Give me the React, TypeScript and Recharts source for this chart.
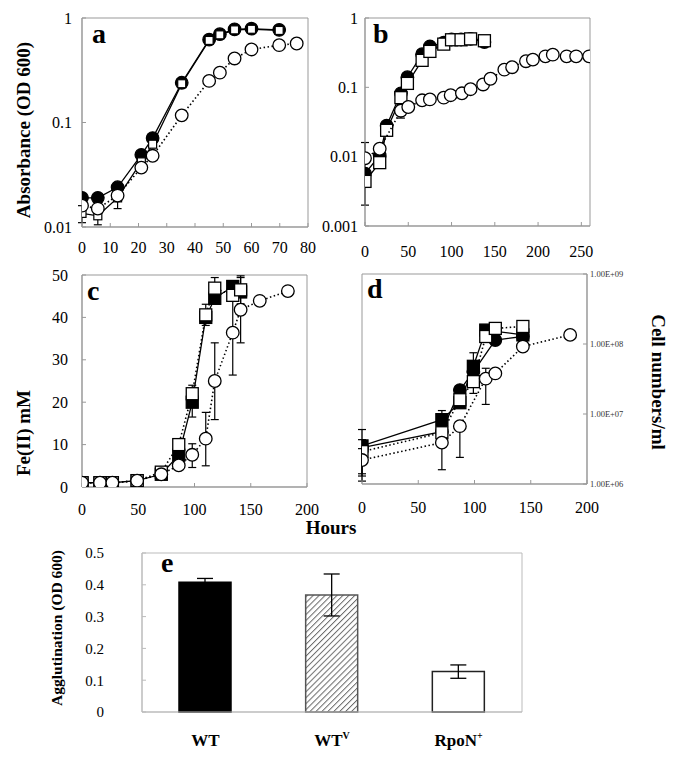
import React from 'react';
import { ScatterChart, Scatter, XAxis, YAxis, ErrorBar, ReferenceArea, BarChart, Bar, Cell } from 'recharts';

const FONT = '"Liberation Serif", "Times New Roman", serif';

type Err = number | [number, number] | null;

// ---- panel a: absorbance (OD 600), 0-80 h
const aHours = [0, 5.6, 12.6, 21, 25, 35.3, 45, 48.8, 54, 60, 69.8];
const aWT = [0.019, 0.019, 0.024, 0.049, 0.071, 0.24, 0.62, 0.7, 0.78, 0.79, 0.77];
const aWTv = [0.0135, 0.0128, 0.019, 0.042, 0.062, 0.235, 0.61, 0.69, 0.77, 0.78, 0.76];
const aWTvErr: Err[] = [0.0025, 0.0023, 0.004, null, null, null, null, null, null, null, null];
const aRpoNHours = [0, 5.6, 12.6, 21, 25, 35.3, 45, 48.8, 54, 60, 69.8, 76];
const aRpoN = [0.016, 0.015, 0.02, 0.037, 0.048, 0.117, 0.25, 0.3, 0.41, 0.5, 0.55, 0.57];
const aRpoNErr: Err[] = [null, null, null, null, null, null, null, null, 0.03, 0.03, 0.05, null];

// ---- panel b: absorbance, 0-260 h
const bHours = [0, 17, 25, 41.5, 49, 66, 75, 91, 100, 111, 122, 138];
const bWT = [0.0057, 0.0104, 0.028, 0.082, 0.14, 0.3, 0.39, 0.44, 0.49, 0.49, 0.5, 0.45];
const bWTErr: Err[] = [[0.0037, 0.0103], null, null, null, null, null, null, null, null, null, null, null];
const bWTv = [0.0044, 0.0082, 0.024, 0.071, 0.114, 0.245, 0.33, 0.42, 0.485, 0.485, 0.5, 0.47];
const bRpoNHours = [0, 17, 41.5, 50, 66, 75, 91, 99, 112, 122, 136.5, 145, 161, 170, 186, 194, 208.5, 217, 233, 244, 259];
const bRpoN = [0.0095, 0.013, 0.046, 0.052, 0.065, 0.067, 0.071, 0.077, 0.082, 0.094, 0.11, 0.133, 0.18, 0.195, 0.238, 0.251, 0.28, 0.296, 0.28, 0.28, 0.28];
const bRpoNErr: Err[] = [null, null, 0.01, null, null, 0.006, null, null, null, 0.01, null, null, null, null, null, null, null, null, null, null, null];

// ---- panel c: Fe(II) mM
const cHours = [0, 16, 27, 49, 70.5, 86, 98, 110, 118, 134, 141];
const cWT = [1, 1, 1, 1.5, 3, 7.5, 20, 40, 44.5, 47.3, 46];
const cWTv = [1, 1, 1, 1.5, 3.5, 10, 22, 40.6, 46.9, 45.2, 46.5];
const cWTvErr: Err[] = [null, null, null, null, null, null, [5.5, 2], 2.5, 2.5, null, 3.3];
const cRpoNHours = [0, 16, 27, 49, 70.5, 86, 98, 110, 118, 134, 141, 158, 183];
const cRpoN = [1, 1, 1, 1.5, 3, 5.1, 7.6, 11.4, 25, 36.4, 41.8, 43.9, 46.2];
const cRpoNErr: Err[] = [null, null, null, null, null, null, [3, 2.6], [6.4, 6.2], [9.1, 9], [10, 9], [7.8, 7.6], null, [1.2, 0]];

// ---- panel d: cell numbers/ml
const dWTHours = [0, 71, 87, 99, 110, 143];
const dWT = [3.5e6, 8.3e6, 1.45e7, 4.8e7, 1.58e8, 1.35e8];
const dWTErr: Err[] = [[2.1e6, 2.5e6], [1.5e6, 2.9e6], null, [1e7, 2.7e7], null, null];
const dWT2Hours = [0, 71, 87, 99, 118.5, 143];
const dWT2 = [3.3e6, 5.6e6, 2.2e7, 4.0e7, 1.14e8, 1.28e8];
const dWT2Err: Err[] = [null, null, [3e6, 3e6], null, null, null];
const dWTvHours = [0, 71, 87, 99, 110, 118.5, 143];
const dWTv = [2.9e6, 5.4e6, 1.6e7, 2.9e7, 1.28e8, 1.67e8, 1.78e8];
const dWTvErr: Err[] = [[1.6e6, 1.4e6], null, null, [9.3e6, 5e6], null, null, null];
const dRpoNHours = [0, 71, 87, 110, 118.5, 143, 185];
const dRpoN = [2.2e6, 3.9e6, 6.7e6, 3.2e7, 3.8e7, 9.2e7, 1.35e8];
const dRpoNErr: Err[] = [[1.1e6, 1e6], [2.3e6, 0.8e6], [4.3e6, 1e6], [1.83e7, 1.3e7], null, null, [1.5e7, 0]];

// ---- panel e: agglutination
const eCategories = ['WT', 'WT^V', 'RpoN^+'];
const eValues = [0.408, 0.368, 0.127];
const eErrors = [0.012, 0.066, 0.021];

const pts = (xs: number[], ys: number[], errs?: Err[]) =>
  xs.map((x, i) => ({ x, y: ys[i], err: errs && errs[i] != null ? errs[i] : undefined }));

const FilledCircle = (p: any) => <circle cx={p.cx} cy={p.cy} r={6.3} fill="#000" stroke="#000" strokeWidth={1.2} />;
const OpenCircle = (p: any) => <circle cx={p.cx} cy={p.cy} r={6.3} fill="#fff" stroke="#000" strokeWidth={1.3} />;
const OpenSquare = (p: any) => (
  <rect x={p.cx - 6} y={p.cy - 6} width={12} height={12} fill="#fff" stroke="#000" strokeWidth={1.3} />
);
// panel a draws its squares smaller, inside the circles
const SmallSquare = (p: any) => (
  <rect x={p.cx - 4} y={p.cy - 4} width={8} height={8} fill="#fff" stroke="#000" strokeWidth={1.2} />
);
const FilledSquare = (p: any) => (
  <rect x={p.cx - 6} y={p.cy - 6} width={12} height={12} fill="#000" stroke="#000" strokeWidth={1.3} />
);

const SOLID = { stroke: '#000', strokeWidth: 1.3 };
const DOTTED = { stroke: '#000', strokeWidth: 1.6, strokeDasharray: '1.5 2.5' };

type Series = { data: any[]; shape: any; line: any };

type PanelProps = {
  x0: number; y0: number; w: number; h: number;
  xDomain: [number, number]; xTicks: number[];
  yDomain: [number, number]; yTicks: number[];
  log?: boolean; right?: boolean;
  yFmt?: (v: number) => string;
  yFont?: number;
  xMargin: number; yMargin: number;
  series: Series[];
};

function Panel(p: PanelProps) {
  const ML = 60, MR = 60, MT = 10, MB = 40;
  return (
    <div style={{ position: 'absolute', left: p.x0 - ML, top: p.y0 - MT }}>
      <ScatterChart
        width={p.w + ML + MR}
        height={p.h + MT + MB}
        margin={{ top: MT, right: p.right ? 0 : MR, bottom: 0, left: p.right ? ML : 0 }}
      >
        <XAxis
          type="number" dataKey="x" domain={p.xDomain} ticks={p.xTicks} interval={0}
          allowDataOverflow height={MB} stroke="#999"
          tickSize={-4} tickMargin={p.xMargin}
          tick={{ fill: '#000', fontSize: 16, fontFamily: FONT }}
        />
        <YAxis
          type="number" dataKey="y" orientation={p.right ? 'right' : 'left'} width={p.right ? MR : ML}
          scale={p.log ? 'log' : 'auto'} domain={p.yDomain} ticks={p.yTicks} interval={0}
          allowDataOverflow stroke="#999" tickSize={-4} tickMargin={p.yMargin}
          tickFormatter={p.yFmt}
          tick={{ fill: p.right ? '#333' : '#000', fontSize: p.yFont || 16, fontFamily: FONT }}
        />
        <ReferenceArea y1={p.yDomain[0]} y2={p.yDomain[1]} fill="none" stroke="#999" strokeWidth={1} ifOverflow="visible" />
        {p.series.map((s, i) => (
          <Scatter key={i} data={s.data} shape={s.shape} line={s.line} lineType="joint" fill="#000" isAnimationActive={false}>
            <ErrorBar dataKey="err" direction="y" width={4} stroke="#000" strokeWidth={1.2} />
          </Scatter>
        ))}
      </ScatterChart>
    </div>
  );
}

const CatTick = (props: any) => {
  const { x, y, payload } = props;
  const [base, sup] = String(payload.value).split('^');
  return (
    <text x={x} y={y + 34} textAnchor="middle" fontFamily={FONT} fontWeight="bold" fontSize={17} fill="#000">
      {base}
      {sup ? <tspan dy={-7} fontSize={10}>{sup}</tspan> : null}
    </text>
  );
};

const eData = eCategories.map((name, i) => ({ name, v: eValues[i], err: eErrors[i] }));
const eFills = ['#000', 'url(#hatch)', '#fff'];
const eStrokes = ['#000', '#555', '#222'];

const plain = (v: number) => String(v);
const sci = (v: number) => '1.00E+0' + Math.round(Math.log10(v));

export default function App() {
  const ex0 = 142, ey0 = 553, ew = 380, eh = 159;
  return (
    <div style={{ position: 'absolute', left: 0, top: 0, width: 685, height: 772, background: '#fff', fontFamily: FONT }}>
      <Panel
        x0={82} y0={18} w={226} h={209}
        xDomain={[0, 80]} xTicks={[0, 10, 20, 30, 40, 50, 60, 70, 80]}
        yDomain={[0.01, 1]} yTicks={[0.01, 0.1, 1]} log yFmt={plain}
        xMargin={19} yMargin={14}
        series={[
          { data: pts(aHours, aWT), shape: FilledCircle, line: SOLID },
          { data: pts(aHours, aWTv, aWTvErr), shape: SmallSquare, line: SOLID },
          { data: pts(aRpoNHours, aRpoN, aRpoNErr), shape: OpenCircle, line: DOTTED },
        ]}
      />
      <Panel
        x0={365} y0={18} w={225} h={208}
        xDomain={[0, 260]} xTicks={[0, 50, 100, 150, 200, 250]}
        yDomain={[0.001, 1]} yTicks={[0.001, 0.01, 0.1, 1]} log yFmt={plain}
        xMargin={24} yMargin={11}
        series={[
          { data: pts(bHours, bWT, bWTErr), shape: FilledCircle, line: SOLID },
          { data: pts(bHours, bWTv), shape: OpenSquare, line: SOLID },
          { data: pts(bRpoNHours, bRpoN, bRpoNErr), shape: OpenCircle, line: DOTTED },
        ]}
      />
      <Panel
        x0={82} y0={275} w={225} h={212}
        xDomain={[0, 200]} xTicks={[0, 50, 100, 150, 200]}
        yDomain={[0, 50]} yTicks={[0, 10, 20, 30, 40, 50]}
        xMargin={21} yMargin={18}
        series={[
          { data: pts(cHours, cWT), shape: FilledSquare, line: SOLID },
          { data: pts(cHours, cWTv, cWTvErr), shape: OpenSquare, line: DOTTED },
          { data: pts(cRpoNHours, cRpoN, cRpoNErr), shape: OpenCircle, line: DOTTED },
        ]}
      />
      <Panel
        x0={362} y0={274} w={225} h={210} right
        xDomain={[0, 200]} xTicks={[0, 50, 100, 150, 200]}
        yDomain={[1e6, 1e9]} yTicks={[1e6, 1e7, 1e8, 1e9]} log yFmt={sci} yFont={8.5}
        xMargin={22} yMargin={7}
        series={[
          { data: pts(dWTHours, dWT, dWTErr), shape: FilledSquare, line: SOLID },
          { data: pts(dWT2Hours, dWT2, dWT2Err), shape: FilledCircle, line: SOLID },
          { data: pts(dWTvHours, dWTv, dWTvErr), shape: OpenSquare, line: DOTTED },
          { data: pts(dRpoNHours, dRpoN, dRpoNErr), shape: OpenCircle, line: DOTTED },
        ]}
      />

      {/* panel e bars */}
      <div style={{ position: 'absolute', left: ex0 - 80, top: ey0 - 10 }}>
        <BarChart width={ew + 80 + 10} height={eh + 10 + 50} data={eData} margin={{ top: 10, right: 10, bottom: 0, left: 0 }}>
          <defs>
            <pattern id="hatch" width="4.2" height="4.2" patternUnits="userSpaceOnUse" patternTransform="rotate(45)">
              <rect width="4.2" height="4.2" fill="#fff" />
              <line x1="0" y1="0" x2="0" y2="4.2" stroke="#6a6a6a" strokeWidth="2" />
            </pattern>
          </defs>
          <XAxis dataKey="name" height={50} tickLine={false} tickSize={0} tickMargin={0} axisLine={{ stroke: '#bbb' }} tick={<CatTick />} interval={0} />
          <YAxis
            width={80} domain={[0, 0.5]} ticks={[0, 0.1, 0.2, 0.3, 0.4, 0.5]} interval={0}
            stroke="#bbb" tickSize={-4} tickMargin={42}
            tick={{ fill: '#000', fontSize: 15, fontFamily: FONT }}
          />
          <ReferenceArea y1={0} y2={0.5} fill="none" stroke="#bbb" strokeWidth={1} ifOverflow="visible" />
          <Bar dataKey="v" barSize={52} strokeWidth={1.5} isAnimationActive={false}>
            {eData.map((d, i) => (
              <Cell key={d.name} fill={eFills[i]} stroke={eStrokes[i]} />
            ))}
            <ErrorBar dataKey="err" direction="y" width={8} stroke="#000" strokeWidth={1.3} />
          </Bar>
        </BarChart>
      </div>

      {/* text overlay: panel letters and axis titles */}
      <svg width={685} height={772} style={{ position: 'absolute', left: 0, top: 0, pointerEvents: 'none' }}>
        <g fontFamily={FONT} fontWeight="bold" fill="#000">
          <text x={92} y={43} fontSize={28}>a</text>
          <text x={373} y={43} fontSize={28}>b</text>
          <text x={87} y={300} fontSize={28}>c</text>
          <text x={367} y={298} fontSize={28}>d</text>
          <text x={161} y={572} fontSize={28}>e</text>
          <text transform="translate(30,130) rotate(-90)" textAnchor="middle" fontSize={19}>Absorbance (OD 600)</text>
          <text transform="translate(30,433) rotate(-90)" textAnchor="middle" fontSize={19}>Fe(II) mM</text>
          <text transform="translate(652,382) rotate(90)" textAnchor="middle" fontSize={19}>Cell numbers/ml</text>
          <text x={331} y={534} textAnchor="middle" fontSize={19}>Hours</text>
          <text transform="translate(62,628) rotate(-90)" textAnchor="middle" fontSize={15.5}>Agglutination (OD 600)</text>
        </g>
      </svg>
    </div>
  );
}
